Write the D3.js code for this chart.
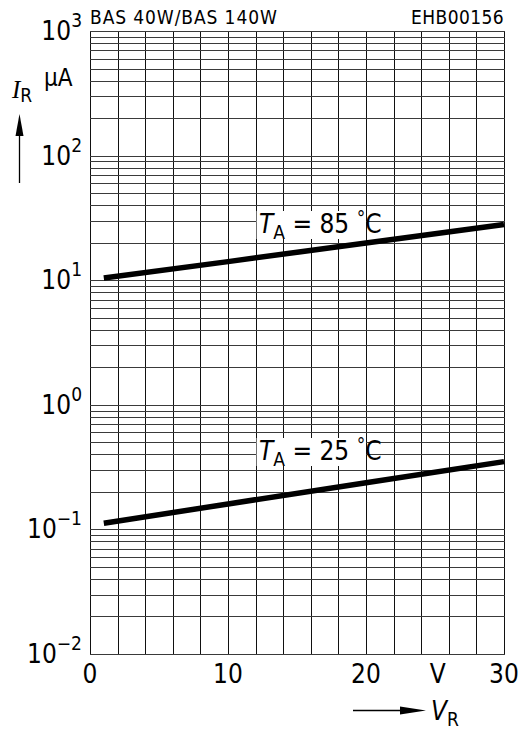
<!DOCTYPE html>
<html><head><meta charset="utf-8">
<script src="https://cdn.jsdelivr.net/npm/d3@7"></script>
<style>
html,body{margin:0;padding:0;background:#fff;}
svg text{font-family:'Liberation Sans Narrow','DejaVu Sans Condensed','Liberation Sans',sans-serif;fill:#000;}
</style></head>
<body>
<svg id="c" width="523" height="730"></svg>
<script>
// Data
const vr = [1, 10, 20, 30];
const ir85 = [10.4, 14.1, 19.9, 28];
const ir25 = [0.112, 0.16, 0.237, 0.35];
const xTicks = [0, 10, 20, 30];
const yExps = [-2, -1, 0, 1, 2, 3];
const title = "BAS 40W/BAS 140W";
const code = "EHB00156";

const svg = d3.select("#c");
const L = 90, R = 504, T = 31, B = 654;
const x = d3.scaleLinear().domain([0, 30]).range([L, R]);
const y = d3.scaleLog().domain([1e-2, 1e3]).range([B, T]);

// grid
const g = svg.append("g");
const vLines = d3.range(0, 31, 2);
g.selectAll("line.v").data(vLines).enter().append("line")
  .attr("x1", d => Math.round(x(d)) + 0.5).attr("x2", d => Math.round(x(d)) + 0.5)
  .attr("y1", T).attr("y2", B).attr("stroke", "#111").attr("stroke-width", 1);
const hVals = [];
for (let e = -2; e < 3; e++) for (let m = 1; m < 10; m++) hVals.push(m * Math.pow(10, e));
hVals.push(1000);
g.selectAll("line.h").data(hVals).enter().append("line")
  .attr("x1", L).attr("x2", R + 1)
  .attr("y1", d => Math.round(y(d)) + 0.5).attr("y2", d => Math.round(y(d)) + 0.5)
  .attr("stroke", "#3a3a3a").attr("stroke-width", 1);

// curves
const line = d3.line().x(d => x(d[0])).y(d => y(d[1]));
[ir85, ir25].forEach(s => {
  svg.append("path").datum(vr.map((v, i) => [v, s[i]])).attr("d", line)
    .attr("fill", "none").attr("stroke", "#000").attr("stroke-width", 5.5);
});

// curve labels
function curveLabel(t, by) {
  svg.append("rect").attr("x", x(12) + 1).attr("y", by - 22).attr("width", x(20) - x(12) - 1).attr("height", 28).attr("fill", "#fff");
  const tx = svg.append("text").attr("x", 259).attr("y", by).attr("font-size", 26);
  tx.append("tspan").attr("font-style", "italic").text("T");
  tx.append("tspan").attr("font-size", 19).attr("dy", 6).text("A");
  tx.append("tspan").attr("dy", -6).text(" = " + t + " ");
  tx.append("tspan").attr("font-size", 19).attr("dy", -8).text("°");
  tx.append("tspan").attr("dy", 8).text("C");
}
curveLabel("85", 233);
curveLabel("25", 460);

// y tick labels
yExps.forEach(e => {
  const t = svg.append("text").attr("x", 82).attr("y", y(Math.pow(10, e)) + 9).attr("text-anchor", "end").attr("font-size", 26);
  t.append("tspan").text("10");
  t.append("tspan").attr("font-size", 19).attr("dy", -13).text(e < 0 ? "\u2212" + (-e) : String(e));
});

// x tick labels
xTicks.forEach(v => {
  svg.append("text").attr("x", x(v)).attr("y", 683).attr("text-anchor", "middle").attr("font-size", 26).text(v);
});
svg.append("text").attr("x", x(25.2)).attr("y", 683).attr("text-anchor", "middle").attr("font-size", 26).text("V");

// titles
svg.append("text").attr("x", 90).attr("y", 24).attr("font-size", 19).attr("letter-spacing", 0.9).text(title);
svg.append("text").attr("x", 504).attr("y", 24).attr("text-anchor", "end").attr("font-size", 19).attr("letter-spacing", 0.4).text(code);

// y axis label
svg.append("text").attr("x", 44).attr("y", 86).attr("font-size", 24).text("\u03bcA");
const yl = svg.append("text").attr("x", 12).attr("y", 98).attr("font-size", 25);
yl.append("tspan").attr("font-style", "italic").attr("font-family", "'Liberation Serif',serif").text("I");
yl.append("tspan").attr("font-size", 19).attr("dy", 4).text("R");
svg.append("line").attr("x1", 19.5).attr("x2", 19.5).attr("y1", 130).attr("y2", 183).attr("stroke", "#000").attr("stroke-width", 1.3);
svg.append("path").attr("d", "M19.5,114 L15.5,136 L23.5,136 Z").attr("fill", "#000");

// x axis label
svg.append("line").attr("x1", 353).attr("x2", 405).attr("y1", 710.5).attr("y2", 710.5).attr("stroke", "#000").attr("stroke-width", 1.3);
svg.append("path").attr("d", "M426,710.5 L400,706.5 L400,714.5 Z").attr("fill", "#000");
const xl = svg.append("text").attr("x", 431).attr("y", 720).attr("font-size", 26);
xl.append("tspan").attr("font-style", "italic").text("V");
xl.append("tspan").attr("font-size", 19).attr("dy", 6).text("R");
</script>
</body></html>
